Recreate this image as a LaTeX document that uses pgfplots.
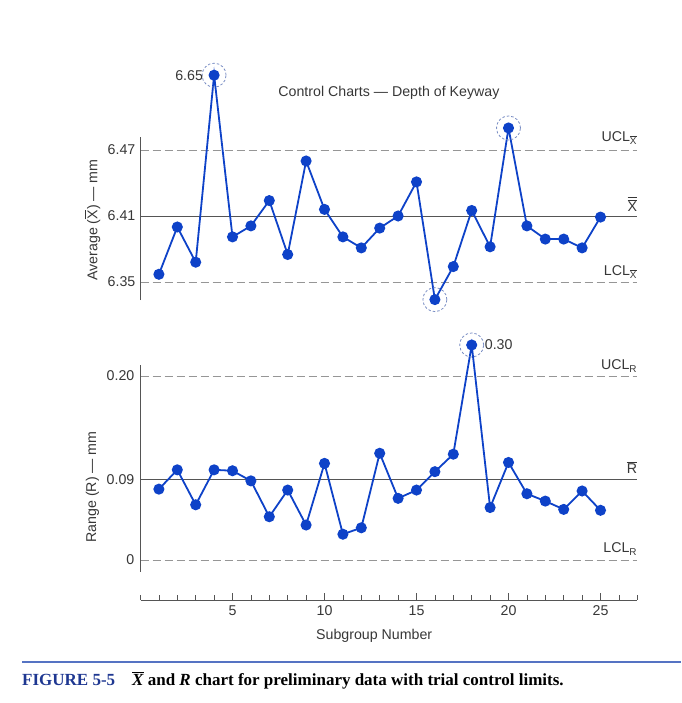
\documentclass[border=0pt]{standalone}
\usepackage{pgfplots}
\pgfplotsset{compat=1.18}
\usepackage{pgfplotstable}
\usepackage{amsmath}
\usepackage{fontspec}
\setmainfont{Liberation Sans}
\newfontfamily\capfont{Liberation Serif}
\definecolor{ptblue}{RGB}{14,66,200}
\definecolor{txt}{RGB}{55,55,55}
\definecolor{dashg}{RGB}{150,150,150}
\definecolor{meang}{RGB}{85,85,85}
\definecolor{ringc}{RGB}{120,140,195}
\definecolor{capblue}{RGB}{30,55,145}
\definecolor{lineblue}{RGB}{85,115,195}

\pgfplotstableread{
n xbar
1 6.357
2 6.400
3 6.368
4 6.65
5 6.391
6 6.401
7 6.424
8 6.375
9 6.460
10 6.416
11 6.391
12 6.381
13 6.399
14 6.410
15 6.441
16 6.334
17 6.364
18 6.415
19 6.382
20 6.490
21 6.401
22 6.389
23 6.389
24 6.381
25 6.409
}\xbartable

\pgfplotstableread{
n r
1 0.077
2 0.098
3 0.060
4 0.098
5 0.097
6 0.086
7 0.047
8 0.076
9 0.038
10 0.105
11 0.028
12 0.035
13 0.116
14 0.067
15 0.076
16 0.096
17 0.115
18 0.30
19 0.057
20 0.106
21 0.072
22 0.064
23 0.055
24 0.075
25 0.054
}\rtable

\newcommand{\tf}{\fontsize{14.2}{16}\selectfont\color{txt}}

\begin{document}
\begin{tikzpicture}
\path[use as bounding box] (0pt,0pt) rectangle (681pt,703pt);

% ---------------- X-bar chart ----------------
\begin{axis}[
  at={(140.5pt,366pt)}, anchor=south west,
  scale only axis, width=496.8pt, height=220pt,
  xmin=0, xmax=27, ymin=6.30, ymax=6.50,
  axis lines=none, clip=false,
  y coord trafo/.code={\pgfmathparse{#1>6.5?6.5+(#1-6.5)*0.2533:#1}},
  y coord inv trafo/.code={\pgfmathparse{#1>6.5?6.5+(#1-6.5)/0.2533:#1}},
]
\addplot[dashg, line width=0.8pt, dash pattern=on 8pt off 4pt] coordinates {(0,6.47) (27,6.47)};
\addplot[meang, line width=0.8pt] coordinates {(0,6.41) (27,6.41)};
\addplot[dashg, line width=0.8pt, dash pattern=on 8pt off 4pt] coordinates {(0,6.35) (27,6.35)};
\draw[meang, line width=0.8pt] (axis cs:0,6.3336) -- (axis cs:0,6.4818);

\addplot[ptblue, line width=1.8pt, mark=*, mark size=4.6pt,
  mark options={solid, fill=ptblue, draw=none}]
  table[x=n, y=xbar] {\xbartable};
\addplot[only marks, mark=o, mark size=12pt,
  mark options={ringc, line width=0.8pt, dash pattern=on 2.5pt off 2pt}]
  coordinates {(4,6.65) (16,6.334) (20,6.490)};
\addplot[draw=none, nodes near coords={\tf 6.65},
  every node near coord/.style={anchor=east, xshift=-11pt, yshift=0pt, inner sep=0pt}]
  coordinates {(4,6.65)};

\node[anchor=east, inner sep=0pt, xshift=-5pt] at (axis cs:0,6.47) {\tf 6.47};
\node[anchor=east, inner sep=0pt, xshift=-5pt] at (axis cs:0,6.41) {\tf 6.41};
\node[anchor=east, inner sep=0pt, xshift=-5pt] at (axis cs:0,6.35) {\tf 6.35};

\node[anchor=east, inner sep=0pt, yshift=12pt] at (axis cs:27,6.47) {\tf UCL$_{\overline{\text{X}}}$};
\node[anchor=east, inner sep=0pt, yshift=12pt] at (axis cs:27,6.41) {\tf $\overline{\overline{\text{X}}}$};
\node[anchor=east, inner sep=0pt, yshift=10pt] at (axis cs:27,6.35) {\tf LCL$_{\overline{\text{X}}}$};

\node[inner sep=0pt, yshift=123pt] at (axis cs:13.5,6.41) {\tf Control Charts --- Depth of Keyway};
\node[rotate=90, inner sep=0pt, xshift=-4pt, yshift=48pt] at (axis cs:0,6.41) {\tf Average ($\overline{\text{X}}$) --- mm};
\end{axis}

% ---------------- R chart ----------------
\begin{axis}[
  at={(140.5pt,103pt)}, anchor=south west,
  scale only axis, width=496.8pt, height=237.8pt,
  xmin=0, xmax=27, ymin=-0.0435, ymax=0.215,
  clip=false,
  axis x line=bottom, axis y line=none,
  axis line style={-, meang, line width=0.8pt},
  xtick={5,10,15,20,25},
  minor xtick={0,1,...,27},
  tick align=inside,
  major tick length=7pt, minor tick length=4.5pt,
  tick style={meang, line width=0.7pt},
  xticklabel style={font=\tf, yshift=-2pt},
  /pgf/number format/assume math mode=true,
  y coord trafo/.code={\pgfmathparse{#1>0.215?0.215+(#1-0.215)*0.22:#1}},
  y coord inv trafo/.code={\pgfmathparse{#1>0.215?0.215+(#1-0.215)/0.22:#1}},
]
\addplot[dashg, line width=0.8pt, dash pattern=on 8pt off 4pt] coordinates {(0,0.20) (27,0.20)};
\addplot[meang, line width=0.8pt] coordinates {(0,0.0876) (27,0.0876)};
\addplot[dashg, line width=0.8pt, dash pattern=on 8pt off 4pt] coordinates {(0,0) (27,0)};
\draw[meang, line width=0.8pt] (axis cs:0,-0.013) -- (axis cs:0,0.212);

\addplot[ptblue, line width=1.8pt, mark=*, mark size=4.6pt,
  mark options={solid, fill=ptblue, draw=none}]
  table[x=n, y=r] {\rtable};
\addplot[only marks, mark=o, mark size=12pt,
  mark options={ringc, line width=0.8pt, dash pattern=on 2.5pt off 2pt}]
  coordinates {(18,0.30)};
\addplot[draw=none, nodes near coords={\tf 0.30},
  every node near coord/.style={anchor=west, xshift=13pt, yshift=0pt, inner sep=0pt}]
  coordinates {(18,0.30)};

\node[anchor=east, inner sep=0pt, xshift=-6pt] at (axis cs:0,0.20) {\tf 0.20};
\node[anchor=east, inner sep=0pt, xshift=-6pt] at (axis cs:0,0.0876) {\tf 0.09};
\node[anchor=east, inner sep=0pt, xshift=-6pt] at (axis cs:0,0) {\tf 0};

\node[anchor=east, inner sep=0pt, yshift=10pt] at (axis cs:27,0.20) {\tf UCL$_{\text{R}}$};
\node[anchor=east, inner sep=0pt, yshift=12pt] at (axis cs:27,0.0876) {\tf $\overline{\text{R}}$};
\node[anchor=east, inner sep=0pt, yshift=11pt] at (axis cs:27,0) {\tf LCL$_{\text{R}}$};

\node[rotate=90, inner sep=0pt, xshift=-7.6pt, yshift=48pt] at (axis cs:0,0.0876) {\tf Range (R) --- mm};
\node[inner sep=0pt, yshift=-36pt] at (axis cs:12.7,-0.0435) {\tf Subgroup Number};
\end{axis}

% ---------------- caption ----------------
\draw[lineblue, line width=1.3pt] (22pt,41pt) -- (681pt,41pt);
\node[anchor=base west, inner sep=0pt] at (22pt,17pt)
  {\capfont\bfseries\fontsize{17}{20}\selectfont\color{capblue}FIGURE 5-5\quad
   \color{black}$\overline{\text{\itshape X}}$ and \textit{R} chart for preliminary data with trial control limits.};
\end{tikzpicture}
\end{document}
